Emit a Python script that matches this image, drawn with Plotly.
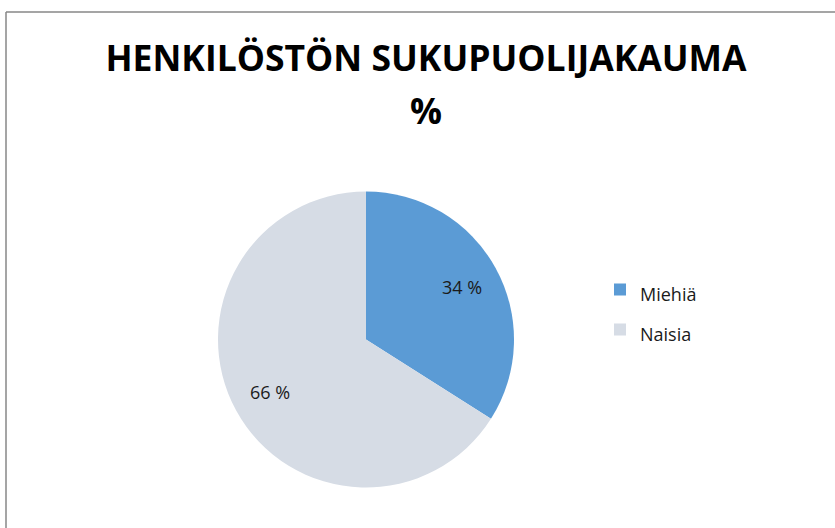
import math
import plotly.graph_objects as go

labels = ["Miehiä", "Naisia"]
values = [34, 66]
colors = ["#5B9BD5", "#D6DCE5"]
title_line1 = "HENKILÖSTÖN SUKUPUOLIJAKAUMA"
title_line2 = "%"

W, H = 835, 528
cx, cy, R = 366, 339.5, 148  # pie centre / radius in pixels
dom_x = [(cx - R) / W, (cx + R) / W]
dom_y = [1 - (cy + R) / H, 1 - (cy - R) / H]

FONT = "Open Sans"

fig = go.Figure(
    go.Pie(
        labels=[f'<span style="font-size:18px">{l}</span>' for l in labels],
        values=values,
        marker=dict(colors=colors, line=dict(width=0)),
        sort=False,
        direction="clockwise",
        rotation=0,
        textinfo="none",
        hoverinfo="percent",
        domain=dict(x=dom_x, y=dom_y),
    )
)

# data labels at ~0.74 R along each slice's mid angle
annotations = []
total = sum(values)
cum = 0
for v in values:
    mid = (cum + v / 2) / total * 2 * math.pi
    px = cx + 0.74 * R * math.sin(mid)
    py = cy - 0.74 * R * math.cos(mid)
    annotations.append(
        dict(
            x=px / W, y=1 - py / H, xref="paper", yref="paper",
            xanchor="center", yanchor="middle",
            text=f"{round(100 * v / total)} %", showarrow=False,
            font=dict(family=FONT, size=18, color="#1a1a1a"),
        )
    )
    cum += v

# second title line
annotations.append(
    dict(
        x=426 / W, y=1 - 110 / H, xref="paper", yref="paper",
        xanchor="center", yanchor="middle",
        text=title_line2, showarrow=False,
        font=dict(family=FONT, size=35.5, color="black", weight="bold"),
    )
)

fig.update_layout(
    width=W, height=H,
    margin=dict(l=0, r=0, t=0, b=0),
    paper_bgcolor="white",
    plot_bgcolor="white",
    title=dict(
        text=title_line1,
        x=426 / W, xanchor="center",
        y=1 - 59 / H, yanchor="middle",
        font=dict(family=FONT, size=35.5, color="black", weight="bold"),
    ),
    legend=dict(
        x=600 / W, xanchor="left",
        y=1 - 310 / H, yanchor="middle",
        font=dict(family=FONT, size=28.5, color="#1a1a1a"),
        bgcolor="rgba(0,0,0,0)",
    ),
    annotations=annotations,
    shapes=[
        dict(type="line", xref="paper", yref="paper",
             x0=6 / W, x1=1, y0=1 - 12 / H, y1=1 - 12 / H,
             line=dict(color="#878787", width=1.5)),
        dict(type="line", xref="paper", yref="paper",
             x0=6 / W, x1=6 / W, y0=0, y1=1 - 12 / H,
             line=dict(color="#878787", width=1.5)),
    ],
)

fig.write_html(
    "out.html",
    config={"displayModeBar": False},
    post_script="document.body.style.margin='0';document.body.style.padding='0';",
)
